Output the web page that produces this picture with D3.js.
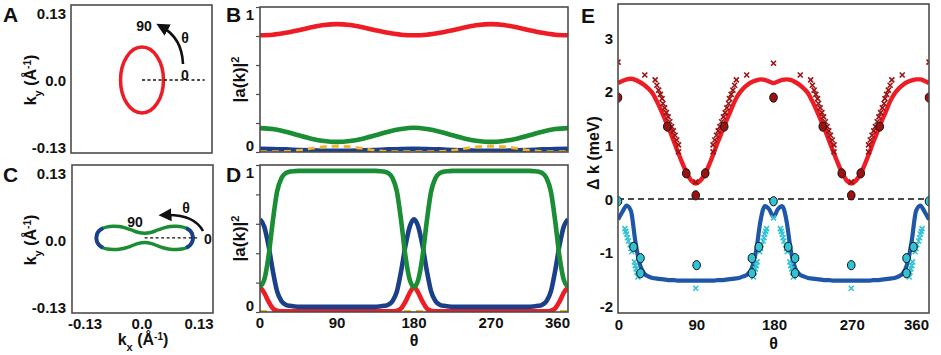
<!DOCTYPE html>
<html>
<head>
<meta charset="utf-8">
<script src="https://cdn.jsdelivr.net/npm/d3@7"></script>
<style>
  body { margin: 0; background: #fff; }
  svg { display: block; font-family: "Liberation Sans", Arial, sans-serif; }
</style>
</head>
<body>
<div id="chart"></div>
<script>
// ---------- data ----------
// panel A : elliptical contour (k units)
const ellipseCenter = [0, 0];
const ellipseSemiAxes = [0.049, 0.064];

// panel C : peanut contour, upper outline (lower half is its mirror)
const peanutCenter = [0.006, 0.004];
const peanutKx  = [-0.110,-0.108,-0.103,-0.095,-0.085,-0.072,-0.058,-0.044,-0.030,-0.016,0,0.016,0.030,0.044,0.058,0.072,0.085,0.095,0.103,0.108,0.110];
const peanutKyT = [0,0.0085,0.0145,0.019,0.0215,0.0225,0.022,0.0195,0.0155,0.0110,0.0090,0.0110,0.0155,0.0195,0.022,0.0225,0.0215,0.019,0.0145,0.0085,0];
const blueTipLimit = 0.095;

// panel B : weights, theta every 15 deg
const thetaB = [0,15,30,45,60,75,90,105,120,135,150,165,180,195,210,225,240,255,270,285,300,315,330,345,360];
const bRed    = [0.805,0.809,0.822,0.840,0.860,0.876,0.882,0.876,0.860,0.840,0.822,0.809,0.805,0.809,0.822,0.840,0.860,0.876,0.882,0.876,0.860,0.840,0.822,0.809,0.805];
const bGreen  = [0.165,0.158,0.140,0.115,0.092,0.076,0.070,0.076,0.092,0.115,0.140,0.158,0.167,0.158,0.140,0.115,0.092,0.076,0.070,0.076,0.092,0.115,0.140,0.158,0.165];
const bBlue   = [0.022,0.021,0.018,0.014,0.011,0.009,0.008,0.009,0.011,0.014,0.018,0.021,0.022,0.021,0.018,0.014,0.011,0.009,0.008,0.009,0.011,0.014,0.018,0.021,0.022];
const bOrange = [0.002,0.002,0.003,0.010,0.025,0.036,0.040,0.036,0.025,0.010,0.003,0.002,0.002,0.002,0.003,0.010,0.025,0.036,0.040,0.036,0.025,0.010,0.003,0.002,0.002];

// panel D : weights, theta every 5 deg
const thetaD = [0,5,10,15,20,25,30,35,40,45,50,55,60,65,70,75,80,85,90,95,100,105,110,115,120,125,130,135,140,145,150,155,160,165,170,175,
                180,185,190,195,200,205,210,215,220,225,230,235,240,245,250,255,260,265,270,275,280,285,290,295,300,305,310,315,320,325,330,335,340,345,350,355,360];
const dGreen = [0.17,0.22,0.38,0.62,0.82,0.91,0.945,0.955,0.958,0.96,0.96,0.96,0.96,0.96,0.96,0.96,0.96,0.96,0.96,0.96,0.96,0.96,0.96,0.96,0.96,0.96,0.96,0.96,0.958,0.955,0.945,0.91,0.82,0.62,0.38,0.22,
                0.17,0.22,0.38,0.62,0.82,0.91,0.945,0.955,0.958,0.96,0.96,0.96,0.96,0.96,0.96,0.96,0.96,0.96,0.96,0.96,0.96,0.96,0.96,0.96,0.96,0.96,0.96,0.96,0.958,0.955,0.945,0.91,0.82,0.62,0.38,0.22,0.17];
const dBlue  = [0.63,0.58,0.45,0.28,0.14,0.075,0.05,0.042,0.038,0.035,0.035,0.035,0.035,0.035,0.035,0.035,0.035,0.035,0.035,0.035,0.035,0.035,0.035,0.035,0.035,0.035,0.035,0.035,0.038,0.042,0.05,0.075,0.14,0.28,0.45,0.58,
                0.63,0.58,0.45,0.28,0.14,0.075,0.05,0.042,0.038,0.035,0.035,0.035,0.035,0.035,0.035,0.035,0.035,0.035,0.035,0.035,0.035,0.035,0.035,0.035,0.035,0.035,0.035,0.035,0.038,0.042,0.05,0.075,0.14,0.28,0.45,0.58,0.63];
const dRed   = [0.17,0.13,0.07,0.025,0.008,0.004,0.004,0.004,0.004,0.004,0.004,0.004,0.004,0.004,0.004,0.004,0.004,0.004,0.004,0.004,0.004,0.004,0.004,0.004,0.004,0.004,0.004,0.004,0.004,0.004,0.004,0.004,0.008,0.025,0.07,0.13,
                0.17,0.13,0.07,0.025,0.008,0.004,0.004,0.004,0.004,0.004,0.004,0.004,0.004,0.004,0.004,0.004,0.004,0.004,0.004,0.004,0.004,0.004,0.004,0.004,0.004,0.004,0.004,0.004,0.004,0.004,0.004,0.004,0.008,0.025,0.07,0.13,0.17];
const dOrange = [0.003,0.003,0.003,0.003,0.003,0.003,0.003,0.003,0.003,0.003,0.003,0.003,0.003,0.003,0.003,0.003,0.003,0.003,0.003,0.003,0.003,0.003,0.003,0.003,0.003,0.003,0.003,0.003,0.003,0.003,0.003,0.003,0.003,0.003,0.003,0.003,
                 0.003,0.003,0.003,0.003,0.003,0.003,0.003,0.003,0.003,0.003,0.003,0.003,0.003,0.003,0.003,0.003,0.003,0.003,0.003,0.003,0.003,0.003,0.003,0.003,0.003,0.003,0.003,0.003,0.003,0.003,0.003,0.003,0.003,0.003,0.003,0.003,0.003];

// panel E : splitting (meV), theta every 5 deg for the lines
const thetaE = thetaD;
const eRedLine = [2.16,2.20,2.23,2.24,2.22,2.18,2.13,2.06,1.97,1.82,1.65,1.46,1.27,1.06,0.85,0.65,0.47,0.34,0.29,0.34,0.45,0.62,0.82,1.04,1.24,1.44,1.63,1.82,1.96,2.06,2.13,2.18,2.21,2.23,2.22,2.19,
                  2.16,2.19,2.22,2.23,2.22,2.18,2.13,2.06,1.97,1.82,1.65,1.46,1.27,1.06,0.85,0.65,0.47,0.34,0.29,0.34,0.45,0.62,0.82,1.04,1.24,1.44,1.63,1.82,1.96,2.06,2.13,2.18,2.21,2.23,2.23,2.20,2.16];
const eBlueLine = [-0.38,-0.24,-0.12,-0.22,-0.78,-1.20,-1.38,-1.44,-1.47,-1.48,-1.49,-1.50,-1.51,-1.51,-1.52,-1.52,-1.52,-1.52,-1.52,-1.52,-1.52,-1.52,-1.52,-1.51,-1.51,-1.50,-1.49,-1.48,-1.47,-1.44,-1.40,-1.28,-0.95,-0.40,-0.13,-0.19,
                   -0.33,-0.19,-0.13,-0.40,-0.95,-1.28,-1.40,-1.44,-1.47,-1.48,-1.49,-1.50,-1.51,-1.51,-1.52,-1.52,-1.52,-1.52,-1.52,-1.52,-1.52,-1.52,-1.52,-1.51,-1.51,-1.50,-1.49,-1.48,-1.47,-1.44,-1.38,-1.20,-0.78,-0.22,-0.12,-0.24,-0.38];

const eRedDotTheta = [0,57,79,90,101,123,180,237,259,270,281,303,360];
const eRedDotVal   = [1.89,1.35,0.48,0.07,0.48,1.35,1.89,1.35,0.48,0.07,0.48,1.35,1.89];
const eCyanDotTheta = [0,18,26,26,91,155,155,163,180,197,205,205,270,334,334,342,360];
const eCyanDotVal   = [-0.04,-0.89,-1.10,-1.38,-1.23,-1.38,-1.10,-0.89,-0.04,-0.89,-1.10,-1.38,-1.23,-1.10,-1.38,-0.89,-0.04];

const eRedCrossTheta = [0,31,43,45,47,49,51,52,54,56,58,60,62,64,66,68,70,70,90,110,110,112,114,116,118,120,122,124,126,128,129,131,133,135,137,149,
                        180,211,223,225,227,229,231,232,234,236,238,240,242,244,246,248,250,250,270,290,290,292,294,296,298,300,302,304,306,308,309,311,313,315,317,329,360];
const eRedCrossVal   = [2.55,2.31,2.22,2.12,2.03,1.95,1.87,1.78,1.70,1.61,1.53,1.44,1.35,1.27,1.19,1.10,1.01,0.88,0.32,0.88,1.01,1.10,1.19,1.27,1.35,1.44,1.53,1.61,1.70,1.78,1.87,1.95,2.03,2.12,2.22,2.31,
                        2.53,2.31,2.22,2.12,2.03,1.95,1.87,1.78,1.70,1.61,1.53,1.44,1.35,1.27,1.19,1.10,1.01,0.88,0.32,0.88,1.01,1.10,1.19,1.27,1.35,1.44,1.53,1.61,1.70,1.78,1.87,1.95,2.03,2.12,2.22,2.31,2.55];

const eCyanCrossTheta = [8,9,10,11,12,14,15,16,19,20,21,22,23, 90,
                         172,171,170,169,168,166,165,164,161,160,159,158,157, 180,
                         188,189,190,191,192,194,195,196,199,200,201,202,203, 270,
                         352,351,350,349,348,346,345,344,341,340,339,338,337];
const eCyanCrossVal   = [-0.55,-0.60,-0.65,-0.72,-0.78,-0.85,-0.92,-0.98,-1.17,-1.24,-1.30,-1.36,-1.45, -1.66,
                         -0.55,-0.60,-0.65,-0.72,-0.78,-0.85,-0.92,-0.98,-1.17,-1.24,-1.30,-1.36,-1.45, -0.35,
                         -0.55,-0.60,-0.65,-0.72,-0.78,-0.85,-0.92,-0.98,-1.17,-1.24,-1.30,-1.36,-1.45, -1.66,
                         -0.55,-0.60,-0.65,-0.72,-0.78,-0.85,-0.92,-0.98,-1.17,-1.24,-1.30,-1.36,-1.45];

const kTicks = [-0.13, 0, 0.13];
const kTickText = ["-0.13", "0.0", "0.13"];
const thetaTicks = [0, 90, 180, 270, 360];
const eTicks = [-2, -1, 0, 1, 2, 3];

// ---------- colours ----------
const RED = "#ee1c24", GREEN = "#1a8d35", NAVY = "#1c3f8a", ORANGE = "#f5b325";
const EBLUE = "#1f57a8", CYAN = "#30c3d4", DARKRED = "#9c1212", FRAME = "#4d4d4d";

// ---------- svg ----------
const svg = d3.select("#chart").append("svg")
    .attr("width", 941)
    .attr("height", 355);

const defs = svg.append("defs");
defs.append("marker")
    .attr("id", "arrow")
    .attr("viewBox", "0 0 10 10")
    .attr("refX", 5).attr("refY", 5)
    .attr("markerWidth", 5).attr("markerHeight", 5)
    .attr("orient", "auto")
    .append("path").attr("d", "M0,0L10,5L0,10z").attr("fill", "#111");

// scales
const xK  = d3.scaleLinear().domain([-0.13, 0.13]).range([85, 199]);
const yKA = d3.scaleLinear().domain([-0.13, 0.13]).range([147, 13]);
const yKC = d3.scaleLinear().domain([-0.13, 0.13]).range([307, 173]);
const xTh = d3.scaleLinear().domain([0, 360]).range([260, 568]);
const yB  = d3.scaleLinear().domain([0, 1]).range([152, 7]);
const yD  = d3.scaleLinear().domain([0, 1]).range([312, 165]);
const xE  = d3.scaleLinear().domain([0, 360]).range([618, 929]);
const yE  = d3.scaleLinear().domain([-2, 3]).range([306.5, 38]);

// frames [x, y, w, h]
const frames = {A: [71, 5, 141, 148], C: [72, 165, 141, 148], B: [260, 7, 308, 145], D: [260, 165, 308, 147], E: [618, 4, 311, 309]};

function clipFor(name) {
    const f = frames[name];
    defs.append("clipPath").attr("id", "clip" + name)
        .append("rect").attr("x", f[0]).attr("y", f[1]).attr("width", f[2]).attr("height", f[3]);
    return "url(#clip" + name + ")";
}
function frame(name) {
    const f = frames[name];
    svg.append("rect").attr("x", f[0]).attr("y", f[1]).attr("width", f[2]).attr("height", f[3])
        .attr("fill", "none").attr("stroke", FRAME).attr("stroke-width", 1.6);
}
function label(x, y, txt, opts = {}) {
    return svg.append("text")
        .attr("x", x).attr("y", y)
        .attr("text-anchor", opts.anchor || "middle")
        .attr("dominant-baseline", "central")
        .attr("font-size", opts.size || 15)
        .attr("font-weight", opts.weight || "bold")
        .attr("fill", "#111")
        .text(txt);
}
function panelLetter(x, y, txt) {
    svg.append("text").attr("x", x).attr("y", y)
        .attr("font-size", 21).attr("font-weight", "bold").attr("fill", "#111").text(txt);
}
function kLabel(x, y, sub, rotate) {
    const t = svg.append("text")
        .attr("text-anchor", "middle")
        .attr("font-size", 16).attr("font-weight", "bold").attr("fill", "#111")
        .attr("transform", rotate ? `translate(${x},${y}) rotate(-90)` : `translate(${x},${y})`);
    t.append("tspan").text("k");
    t.append("tspan").attr("baseline-shift", "sub").attr("font-size", 11).text(sub);
    t.append("tspan").text(" (Å");
    t.append("tspan").attr("baseline-shift", "super").attr("font-size", 10).text("-1");
    t.append("tspan").text(")");
}

// ================= panel A =================
{
    const g = svg.append("g").attr("clip-path", clipFor("A"));
    g.append("ellipse")
        .attr("cx", xK(ellipseCenter[0])).attr("cy", yKA(ellipseCenter[1]))
        .attr("rx", xK(ellipseSemiAxes[0]) - xK(0))
        .attr("ry", yKA(0) - yKA(ellipseSemiAxes[1]))
        .attr("fill", "none").attr("stroke", RED).attr("stroke-width", 3.5);
    g.append("line")
        .attr("x1", xK(0)).attr("x2", xK(0.143)).attr("y1", yKA(0)).attr("y2", yKA(0))
        .attr("stroke", "#111").attr("stroke-width", 1.3).attr("stroke-dasharray", "3,2.5");
    g.append("path").attr("d", "M183,64 Q182,38 162,27")
        .attr("fill", "none").attr("stroke", "#111").attr("stroke-width", 2.6).attr("marker-end", "url(#arrow)");
    frame("A");
    label(185, 75, "0", {size: 14});
    label(144, 26, "90", {size: 14});
    label(185, 38, "θ", {size: 14});
    kTicks.forEach((v, i) => label(66, yKA(v), kTickText[i], {anchor: "end"}));
    kLabel(36, 80, "y", true);
    panelLetter(3, 22, "A");
}

// ================= panel C =================
{
    const g = svg.append("g").attr("clip-path", clipFor("C"));
    const px = kx => xK(peanutCenter[0] + kx);
    const py = ky => yKC(peanutCenter[1] + ky);
    const n = peanutKx.length;
    const upper = peanutKx.map((kx, i) => [px(kx), py(peanutKyT[i])]);
    const lower = peanutKx.map((kx, i) => [px(kx), py(-peanutKyT[i])]).slice(1, n - 1).reverse();
    g.append("path")
        .attr("d", d3.line().curve(d3.curveCatmullRomClosed)(upper.concat(lower)))
        .attr("fill", "none").attr("stroke", GREEN).attr("stroke-width", 3.5);
    [-1, 1].forEach(sgn => {
        let idx = peanutKx.map((kx, i) => i).filter(i => sgn * peanutKx[i] >= blueTipLimit);
        if (sgn < 0) idx = idx.reverse();
        const top = idx.map(i => [px(peanutKx[i]), py(peanutKyT[i])]);
        const bot = idx.map(i => [px(peanutKx[i]), py(-peanutKyT[i])]).slice(0, -1).reverse();
        g.append("path")
            .attr("d", d3.line().curve(d3.curveCatmullRom)(top.concat(bot)))
            .attr("fill", "none").attr("stroke", NAVY).attr("stroke-width", 3.8);
    });
    g.append("line")
        .attr("x1", px(0)).attr("x2", xK(0.13)).attr("y1", py(0)).attr("y2", py(0))
        .attr("stroke", "#111").attr("stroke-width", 1.3).attr("stroke-dasharray", "3,2.5");
    g.append("path").attr("d", "M203,231 Q194,214 165,215")
        .attr("fill", "none").attr("stroke", "#111").attr("stroke-width", 2.6).attr("marker-end", "url(#arrow)");
    frame("C");
    label(204, 239, "0", {size: 14, anchor: "start"});
    label(135, 222, "90", {size: 14});
    label(186, 208, "θ", {size: 14});
    kTicks.forEach((v, i) => label(66, yKC(v), kTickText[i], {anchor: "end"}));
    kTicks.forEach((v, i) => label(xK(v), 323, kTickText[i]));
    kLabel(36, 240, "y", true);
    kLabel(143, 345, "x", false);
    panelLetter(3, 182, "C");
}

// ================= panels B and D =================
function weightPanel(name, yS, series, theta, showX) {
    const g = svg.append("g").attr("clip-path", clipFor(name));
    series.forEach(s => {
        const pts = theta.map((t, i) => [xTh(t), yS(s.values[i])]);
        g.append("path")
            .attr("d", d3.line().curve(d3.curveMonotoneX)(pts))
            .attr("fill", "none").attr("stroke", s.color)
            .attr("stroke-width", s.dash ? 3 : 4.6)
            .attr("stroke-dasharray", s.dash ? "7,5" : null);
    });
    frame(name);
    svg.append("g")
        .attr("transform", `translate(${frames[name][0]},0)`)
        .call(d3.axisLeft(yS).tickValues([0, 0.2, 0.4, 0.6, 0.8, 1]).tickSize(4).tickFormat(""))
        .call(a => a.select(".domain").remove())
        .call(a => a.selectAll("line").attr("stroke", FRAME).attr("stroke-width", 1.2));
    label(254, yS(1) + 7, "1", {anchor: "end"});
    label(254, yS(0) - 7, "0", {anchor: "end"});
    const cy = (yS(0) + yS(1)) / 2;
    const t = svg.append("text").attr("text-anchor", "middle")
        .attr("font-size", 17).attr("font-weight", "bold").attr("fill", "#111")
        .attr("transform", `translate(245,${cy}) rotate(-90)`);
    t.append("tspan").text("|a(k)|");
    t.append("tspan").attr("baseline-shift", "super").attr("font-size", 11).text("2");
    if (showX) {
        thetaTicks.forEach(v => label(v === 360 ? xTh(v) + 2 : xTh(v), 322, String(v), {anchor: v === 360 ? "end" : "middle"}));
        label(xTh(180), 340, "θ", {size: 16});
    }
}
weightPanel("B", yB, [
    {values: bBlue, color: NAVY},
    {values: bOrange, color: ORANGE, dash: true},
    {values: bGreen, color: GREEN},
    {values: bRed, color: RED}
], thetaB, false);
panelLetter(226, 22, "B");

weightPanel("D", yD, [
    {values: dOrange, color: ORANGE, dash: true},
    {values: dRed, color: RED},
    {values: dBlue, color: NAVY},
    {values: dGreen, color: GREEN}
], thetaD, true);
panelLetter(226, 182, "D");

// ================= panel E =================
{
    const g = svg.append("g").attr("clip-path", clipFor("E"));
    g.append("line")
        .attr("x1", xE(0)).attr("x2", xE(360)).attr("y1", yE(0)).attr("y2", yE(0))
        .attr("stroke", "#111").attr("stroke-width", 1.5).attr("stroke-dasharray", "6,4");
    const line = d3.line().curve(d3.curveMonotoneX);
    g.append("path")
        .attr("d", line(thetaE.map((t, i) => [xE(t), yE(eRedLine[i])])))
        .attr("fill", "none").attr("stroke", RED).attr("stroke-width", 4.4);
    g.append("path")
        .attr("d", line(thetaE.map((t, i) => [xE(t), yE(eBlueLine[i])])))
        .attr("fill", "none").attr("stroke", EBLUE).attr("stroke-width", 4.2);

    const cross = "M-2.5,-2.5L2.5,2.5M-2.5,2.5L2.5,-2.5";
    g.selectAll(".rx").data(eRedCrossTheta).join("path")
        .attr("d", cross)
        .attr("transform", (t, i) => `translate(${xE(t)},${yE(eRedCrossVal[i])})`)
        .attr("stroke", DARKRED).attr("stroke-width", 1.6).attr("fill", "none");
    g.selectAll(".cx").data(eCyanCrossTheta).join("path")
        .attr("d", cross)
        .attr("transform", (t, i) => `translate(${xE(t)},${yE(eCyanCrossVal[i])})`)
        .attr("stroke", CYAN).attr("stroke-width", 1.6).attr("fill", "none");

    g.selectAll(".rd").data(eRedDotTheta).join("ellipse")
        .attr("cx", t => xE(t)).attr("cy", (t, i) => yE(eRedDotVal[i]))
        .attr("rx", 3.8).attr("ry", 4.6)
        .attr("fill", DARKRED).attr("stroke", "#111").attr("stroke-width", 1);
    g.selectAll(".cd").data(eCyanDotTheta).join("ellipse")
        .attr("cx", t => xE(t)).attr("cy", (t, i) => yE(eCyanDotVal[i]))
        .attr("rx", 3.8).attr("ry", 4.6)
        .attr("fill", CYAN).attr("stroke", "#111").attr("stroke-width", 1);

    frame("E");
    eTicks.forEach(v => label(613, yE(v), String(v), {anchor: "end"}));
    thetaTicks.forEach(v => label(v === 360 ? xE(v) : xE(v) + 1, 324, String(v), {anchor: v === 360 ? "end" : "middle"}));
    label(xE(180), 343, "θ", {size: 16});
    svg.append("text").attr("text-anchor", "middle")
        .attr("font-size", 16).attr("font-weight", "bold").attr("fill", "#111")
        .attr("transform", `translate(599,153) rotate(-90)`)
        .text("Δ k (meV)");
    panelLetter(581, 23, "E");
}
</script>
</body>
</html>
